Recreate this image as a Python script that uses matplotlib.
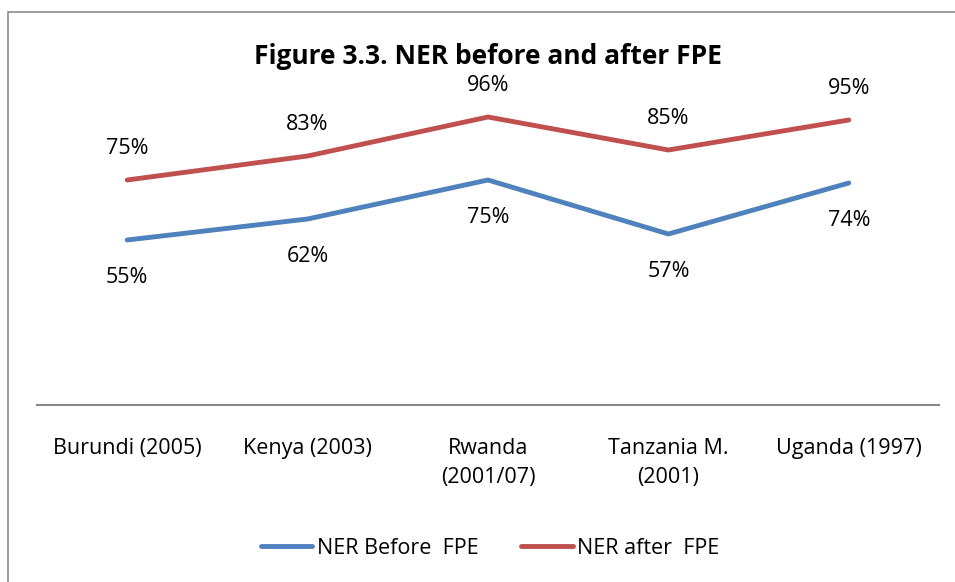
import matplotlib
matplotlib.use("Agg")
import matplotlib.pyplot as plt
from matplotlib.patches import Rectangle
from matplotlib.lines import Line2D

categories = ["Burundi (2005)", "Kenya (2003)", "Rwanda\n(2001/07)", "Tanzania M.\n(2001)", "Uganda (1997)"]
ner_before = [0.55, 0.62, 0.75, 0.57, 0.74]
ner_after = [0.75, 0.83, 0.96, 0.85, 0.95]
series_names = ["NER Before  FPE", "NER after  FPE"]
title = "Figure 3.3. NER before and after FPE"

plt.rcParams['font.family'] = ['Open Sans', 'DejaVu Sans']
BLUE = "#4F81BD"
RED = "#C0504D"
FS = 15.5

W, H = 955, 582
fig = plt.figure(figsize=(W / 100, H / 100), dpi=100)

# outer chart frame
fig.patches.append(Rectangle((8 / W, -0.1), 1.1, 1 - 12 / H + 0.1, transform=fig.transFigure,
                             fill=False, edgecolor="#8c8c8c", linewidth=1.2))

ax_left, ax_right = 37 / W, 939 / W
ax_bottom = 1 - 405 / H
ax_top = 1 - 45 / H
ax = fig.add_axes([ax_left, ax_bottom, ax_right - ax_left, ax_top - ax_bottom])
ax.patch.set_alpha(0)

x = list(range(len(categories)))
ax.plot(x, ner_before, color=BLUE, linewidth=3.5, solid_capstyle="round")
ax.plot(x, ner_after, color=RED, linewidth=3.5, solid_capstyle="round")

for xi, v in zip(x, ner_before):
    ax.annotate(f"{v*100:.0f}%", (xi, v), xytext=(0, -27), textcoords="offset points",
                ha="center", va="center", fontsize=FS, color="#000000")
for xi, v in zip(x, ner_after):
    ax.annotate(f"{v*100:.0f}%", (xi, v), xytext=(0, 23), textcoords="offset points",
                ha="center", va="center", fontsize=FS, color="#000000")

ax.set_xlim(-0.5, len(categories) - 0.5)
ax.set_ylim(0, 1.2)
ax.set_yticks([])
ax.set_xticks(x)
ax.set_xticklabels(categories, fontsize=FS, linespacing=1.45)
ax.tick_params(axis="x", length=0, pad=24)
for s in ["top", "left", "right"]:
    ax.spines[s].set_visible(False)
ax.spines["bottom"].set_color("#868686")
ax.spines["bottom"].set_linewidth(1.5)

fig.text(488 / W, 1 - 57 / H, title, ha="center", va="center", fontsize=19, fontweight="bold")

handles = [Line2D([0], [0], color=BLUE, linewidth=3.5, solid_capstyle="round"),
           Line2D([0], [0], color=RED, linewidth=3.5, solid_capstyle="round")]
fig.legend(handles, series_names, loc="center", bbox_to_anchor=(490 / W, 1 - 548 / H),
           ncol=2, frameon=False, fontsize=FS, handlelength=2.4, handletextpad=0.2,
           columnspacing=2.0)

fig.savefig("out.png", dpi=100)
